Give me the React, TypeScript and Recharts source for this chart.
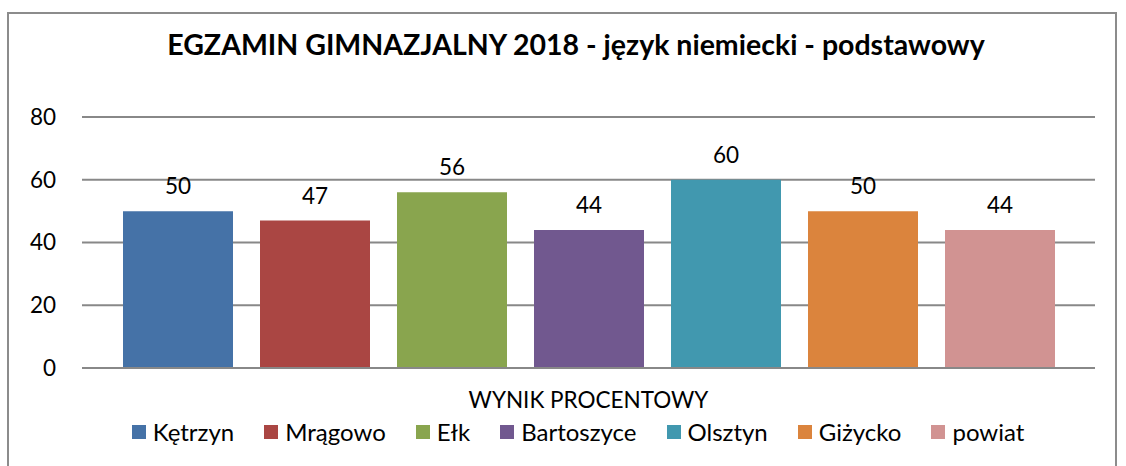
import React from "react";
import { BarChart, Bar, XAxis, YAxis, CartesianGrid, LabelList } from "recharts";

const category = "WYNIK PROCENTOWY";
const seriesNames = ["Kętrzyn", "Mrągowo", "Ełk", "Bartoszyce", "Olsztyn", "Giżycko", "powiat"];
const seriesValues = [50, 47, 56, 44, 60, 50, 44];
const seriesColors = ["#4572A7", "#AA4643", "#89A54E", "#71588F", "#4198AF", "#DB843D", "#D19392"];
const yTicks = [0, 20, 40, 60, 80];
const titleText = "EGZAMIN GIMNAZJALNY 2018 - język niemiecki - podstawowy";

const row: Record<string, string | number> = { name: category };
seriesNames.forEach((n, i) => {
  row[n] = seriesValues[i];
});
const data = [row];

const FONT = "Lato, 'Open Sans', sans-serif";

const LegendContent = () => (
  <div
    style={{
      display: "flex",
      justifyContent: "center",
      alignItems: "center",
      fontFamily: FONT,
      fontSize: 24,
      color: "#000",
      paddingLeft: 30,
    }}
  >
    {seriesNames.map((n, i) => (
      <div key={n} style={{ display: "flex", alignItems: "center", marginRight: i < seriesNames.length - 1 ? 30 : 0 }}>
        <span style={{ display: "inline-block", width: 14, height: 14, background: seriesColors[i], marginRight: 7 }} />
        <span>{n}</span>
      </div>
    ))}
  </div>
);

export default function App() {
  return (
    <div style={{ position: "absolute", left: 0, top: 0, width: 1126, height: 466, background: "#fff", overflow: "hidden" }}>
      <div
        style={{
          position: "absolute",
          left: 7,
          top: 12,
          width: 1110,
          height: 480,
          border: "2px solid #8c8c8c",
          boxSizing: "border-box",
        }}
      />
      <div
        style={{
          position: "absolute",
          left: 13,
          top: 27,
          width: 1126,
          textAlign: "center",
          fontFamily: FONT,
          fontWeight: 700,
          fontSize: 28.5,
          color: "#000",
        }}
      >
        {titleText}
      </div>
      <div style={{ position: "absolute", left: 0, top: 0 }}>
        <BarChart
          width={1126}
          height={466}
          data={data}
          margin={{ top: 117, right: 31, left: 0, bottom: 0 }}
          barCategoryGap={41}
          barGap={27}
        >
          <CartesianGrid horizontal vertical={false} stroke="#888888" strokeWidth={2} />
          <XAxis
            dataKey="name"
            axisLine={{ stroke: "#888888", strokeWidth: 2 }}
            tickLine={false}
            tickSize={0}
            tickMargin={24}
            height={98}
            tick={{ fill: "#000", fontSize: 22.5, fontFamily: FONT }}
          />
          <YAxis
            domain={[0, 80]}
            ticks={yTicks}
            axisLine={false}
            tickLine={false}
            tickSize={0}
            tickMargin={26}
            width={82}
            tick={{ fill: "#000", fontSize: 22.5, fontFamily: FONT }}
          />
          {seriesNames.map((n, i) => (
            <Bar key={n} dataKey={n} fill={seriesColors[i]} isAnimationActive={false}>
              <LabelList dataKey={n} position="top" offset={17} fill="#000" fontSize={22.5} fontFamily={FONT} />
            </Bar>
          ))}
        </BarChart>
      </div>
      <div style={{ position: "absolute", left: 0, top: 417, width: 1126 }}>
        <LegendContent />
      </div>
    </div>
  );
}
